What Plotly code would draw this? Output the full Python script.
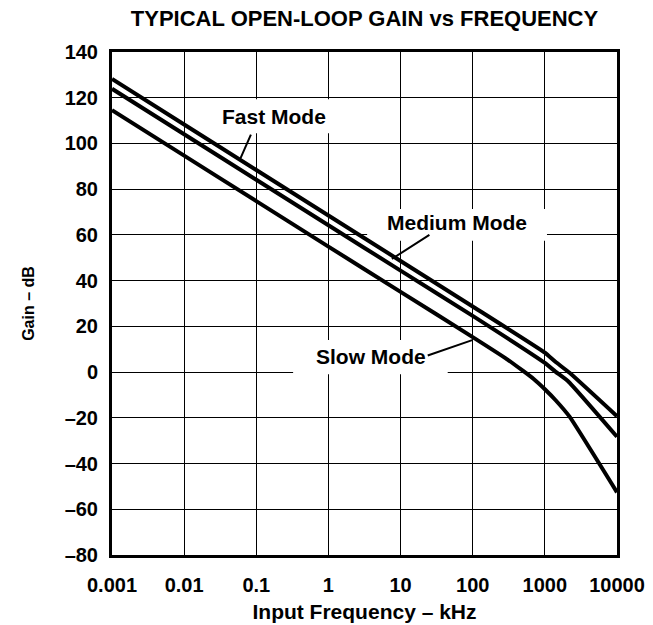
import plotly.graph_objects as go

# ---- data ----
freq_fast = [0.001, 0.01, 0.1, 1, 10, 100, 1000, 1400, 2200, 10000]
gain_fast = [128.2, 108.3, 88.4, 68.5, 48.6, 28.7, 8.5, 4.5, -0.3, -19.3]

freq_med = [0.001, 0.01, 0.1, 1, 10, 100, 1000, 1400, 2100, 10000]
gain_med = [123.9, 104.0, 84.1, 64.2, 44.4, 24.6, 4.0, 0.2, -4.0, -28.3]

freq_slow = [0.001, 0.01, 0.1, 1, 10, 100, 300, 500, 700, 1000, 1400, 2200, 10000]
gain_slow = [114.6, 94.7, 74.8, 54.9, 35.1, 15.3, 5.6, 0.5, -3.0, -7.5, -12.2, -19.5, -52.6]

x_ticks = [0.001, 0.01, 0.1, 1, 10, 100, 1000, 10000]
x_ticktext = ["0.001", "0.01", "0.1", "1", "10", "100", "1000", "10000"]
y_ticks = [-80, -60, -40, -20, 0, 20, 40, 60, 80, 100, 120, 140]
y_ticktext = ["–80", "–60", "–40", "–20", "0", "20", "40", "60", "80", "100", "120", "140"]

FONT = "Liberation Sans, Arial, Helvetica, sans-serif"

fig = go.Figure()
for fx, gy, name in [(freq_fast, gain_fast, "Fast Mode"),
                     (freq_med, gain_med, "Medium Mode"),
                     (freq_slow, gain_slow, "Slow Mode")]:
    fig.add_trace(go.Scatter(x=fx, y=gy, mode="lines", name=name,
                             line=dict(color="black", width=4, shape="spline", smoothing=0.4),
                             showlegend=False))

# white boxes behind labels (hide gridlines, stay under curves)
boxes = [
    (0.02, 1.5, 104.5, 119.3),
    (3.44, 1070, 57.5, 71.3),
    (0.324, 45, -0.9, 14.0),
]
for x0, x1, y0, y1 in boxes:
    fig.add_shape(type="rect", xref="x", yref="y", x0=x0, x1=x1, y0=y0, y1=y1,
                  fillcolor="white", line=dict(width=0), layer="between")

labels = [
    ("Fast Mode", -0.749, 111.9),
    ("Medium Mode", 1.786, 65.5),
    ("Slow Mode", 0.591, 6.8),
]
for txt, lx, ly in labels:
    fig.add_annotation(x=lx, y=ly, xref="x", yref="y", text="<b>%s</b>" % txt,
                       showarrow=False, font=dict(family=FONT, size=21, color="black"))

# leader lines (tip on the curve, tail offset in pixels)
leaders = [
    (-1.218, 93.6, 11, -25),
    (0.88, 49.5, 39, -25),
    (1.993, 14.0, -46, 16),
]
for tx, ty, axp, ayp in leaders:
    fig.add_annotation(x=tx, y=ty, xref="x", yref="y", text="", showarrow=True,
                       arrowhead=0, arrowwidth=2, arrowcolor="black", ax=axp, ay=ayp,
                       standoff=0, startstandoff=0)

fig.update_layout(
    width=653, height=625,
    margin=dict(l=112, r=36, t=52, b=70),
    paper_bgcolor="white", plot_bgcolor="white",
    font=dict(family=FONT, color="black"),
    title=dict(text="<b>TYPICAL OPEN-LOOP GAIN vs FREQUENCY</b>",
               x=0.5, xref="paper", xanchor="center",
               y=1 - 18 / 625, yref="container", yanchor="middle",
               font=dict(family=FONT, size=22, color="black")),
)

fig.update_xaxes(type="log", range=[-3, 4], tickvals=x_ticks, ticktext=x_ticktext,
                 showgrid=True, gridcolor="black", gridwidth=1.2,
                 showline=True, linecolor="black", linewidth=3, mirror=True,
                 ticks="", ticklabelstandoff=10, zeroline=False,
                 tickfont=dict(family=FONT, size=20, color="black", weight="bold"),
                 title=dict(text="<b>Input Frequency – kHz</b>", standoff=10,
                            font=dict(family=FONT, size=21, color="black")),
                 automargin=False)
fig.update_yaxes(range=[-80, 140], tickvals=y_ticks, ticktext=y_ticktext,
                 showgrid=True, gridcolor="black", gridwidth=1.2,
                 showline=True, linecolor="black", linewidth=3, mirror=True,
                 ticks="", ticklabelstandoff=7, zeroline=False,
                 tickfont=dict(family=FONT, size=20, color="black", weight="bold"),
                 title=dict(text="<b>Gain – dB</b>", standoff=27,
                            font=dict(family=FONT, size=16, color="black")),
                 automargin=False)

fig.write_html("out.html", config={"displayModeBar": False},
               post_script="document.body.style.margin='0';document.body.style.padding='0';")
